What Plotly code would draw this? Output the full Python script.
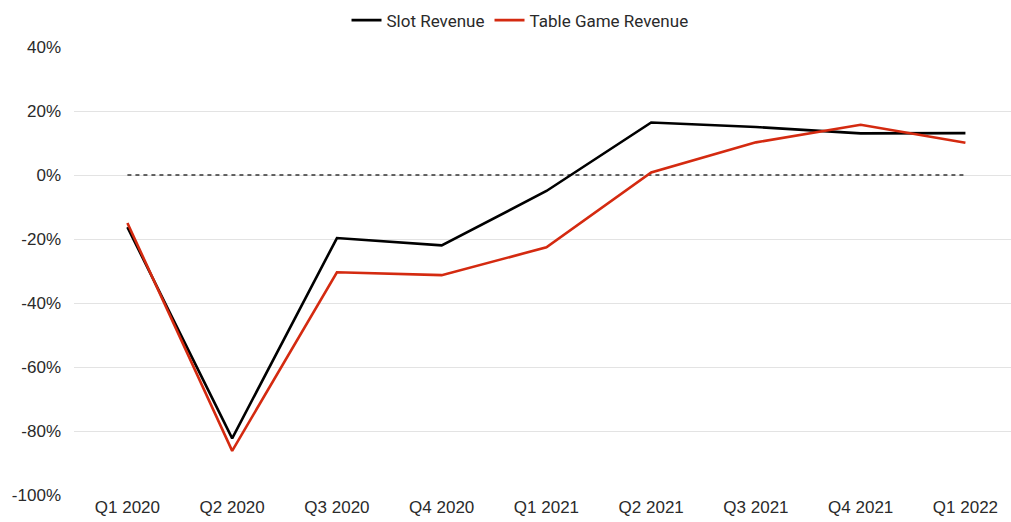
import plotly.graph_objects as go

QUARTERS = ["Q1 2020", "Q2 2020", "Q3 2020", "Q4 2020", "Q1 2021",
            "Q2 2021", "Q3 2021", "Q4 2021", "Q1 2022"]
SLOT_REVENUE = [-16.3, -82.3, -19.7, -22.0, -5.0, 16.4, 15.0, 13.0, 13.1]
TABLE_REVENUE = [-15.0, -86.2, -30.4, -31.3, -22.6, 0.8, 10.2, 15.7, 10.1]
BASELINE = [0] * len(QUARTERS)
Y_TICKS = [40, 20, 0, -20, -40, -60, -80, -100]

fig = go.Figure()

# zero reference line, not in legend
fig.add_trace(go.Scatter(
    x=QUARTERS, y=BASELINE, mode="lines",
    line=dict(color="#333333", width=1.3, dash="4px,4px"),
    showlegend=False, hoverinfo="skip",
))
fig.add_trace(go.Scatter(
    x=QUARTERS, y=SLOT_REVENUE, mode="lines", name="Slot Revenue",
    line=dict(color="#000000", width=2.6),
))
fig.add_trace(go.Scatter(
    x=QUARTERS, y=TABLE_REVENUE, mode="lines", name="Table Game Revenue",
    line=dict(color="#D42A10", width=2.6),
))

fig.update_layout(
    width=1011,
    height=522,
    margin=dict(l=74, r=0, t=47, b=27, autoexpand=False),
    paper_bgcolor="white",
    plot_bgcolor="white",
    font=dict(family="Liberation Sans, Arial, sans-serif", size=17, color="#2a2a2a"),
    legend=dict(
        orientation="h", x=0.476, xanchor="center", y=0.995, yanchor="top",
        yref="container", font=dict(family="Roboto, sans-serif", size=17),
        traceorder="normal", itemwidth=30,
    ),
    xaxis=dict(
        type="category", range=[-0.51, 8.435], showgrid=False,
        showline=False, ticks="", tickfont=dict(size=17),
    ),
    yaxis=dict(
        range=[-100, 40], tickvals=Y_TICKS,
        ticktext=[f"{v}%" for v in Y_TICKS],
        showgrid=True, gridcolor="#E3E3E3", gridwidth=1.3,
        zeroline=False, showline=False, ticks="",
        tickfont=dict(size=17), ticklabelstandoff=12,
    ),
)

# drop the default page margin so the chart sits flush in the window
fig.write_html(
    "out.html",
    config={"displayModeBar": False},
    post_script="document.body.style.margin='0';",
)
